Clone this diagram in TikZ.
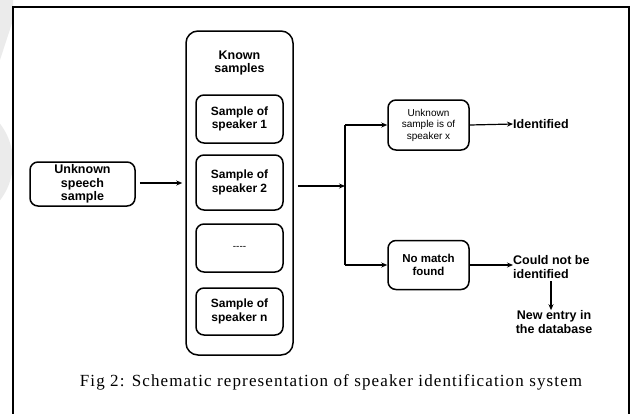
\documentclass[tikz,border=0pt]{standalone}
\usepackage{fontspec}
\setmainfont{Liberation Serif}
\setsansfont{Liberation Sans}
\usetikzlibrary{arrows.meta}
\definecolor{wm}{HTML}{EBEBEB}
\tikzset{
  box/.style={draw, line width=1.5pt, rounded corners=8pt, align=center, inner sep=0pt,
    font=\sffamily\bfseries\fontsize{12}{13.5}\selectfont},
  lbl/.style={inner sep=0pt, font=\sffamily\bfseries\fontsize{12.5}{14}\selectfont},
  conn/.style={line width=1.2pt, -{Stealth[length=6pt,width=5pt]}},
  plain/.style={line width=1.2pt}
}
\begin{document}
\begin{tikzpicture}[x=1pt,y=-1pt]
\useasboundingbox (0,0) rectangle (634,413);
\clip (0,0) rectangle (634,413);
% watermark
\fill[wm] (-50,162) circle (63);
\fill[wm] (0,0) -- (13,0) -- (13,20) -- (0,60) -- cycle;
% frame
\draw[line width=1.8pt] (13,7) rectangle (629,430);
% known samples container
\node[box, rounded corners=12pt, minimum width=107pt, minimum height=324pt] (known) at (239.5,193) {};
\node[lbl, align=center, font=\sffamily\bfseries\fontsize{12.5}{13.5}\selectfont] (knowntitle) at (239.5,63) {Known\\samples};
\node[box, minimum width=87pt, minimum height=48pt] (s1) at (239.5,119) {Sample of\\speaker 1};
\node[box, minimum width=87pt, minimum height=55pt] (s2) at (239.5,182.5) {Sample of\\speaker 2};
\node[box, minimum width=87pt, minimum height=48pt, font=\sffamily\fontsize{10}{12}\selectfont] (sd) at (239.5,248) {-{}-{}-{}-};
\node[box, minimum width=87pt, minimum height=47pt] (sn) at (239.5,311.5) {Sample of\\speaker n};
% unknown speech
\node[box, minimum width=105pt, minimum height=44pt, font=\sffamily\bfseries\fontsize{12.5}{13.5}\selectfont] (unk) at (82.5,184) {Unknown\\speech\\sample};
% result boxes
\node[box, minimum width=81pt, minimum height=50pt, font=\sffamily\fontsize{10}{11.5}\selectfont] (ux) at (428.5,125) {Unknown\\sample is of\\speaker x};
\node[box, minimum width=81pt, minimum height=49pt, font=\sffamily\bfseries\fontsize{11.5}{12.5}\selectfont] (nm) at (428.5,265) {No match\\found};
% labels
\node[lbl, anchor=west] (ident) at (513,124) {Identified};
\node[lbl, anchor=west, align=left] (cnbi) at (513,267) {Could not be\\ identified};
\node[lbl, align=center] (newe) at (554,322) {New entry in\\the database};
% connectors
\coordinate (split) at (345,186);
\coordinate (stop) at (345,125);
\coordinate (sbot) at (345,265);
\draw[conn] (unk.east) ++(4,-1) -- ([xshift=-3pt]known.west |- 0,183);
\draw[conn] ([xshift=4pt]known.east |- split) -- (split);
\draw[plain] (stop) -- (sbot);
\draw[conn] (stop) -- (ux.west);
\draw[conn] (sbot) -- (nm.west);
\draw[conn] (ux.east) -- (ident.west);
\draw[conn] (nm.east) -- (cnbi.west |- nm.east);
\draw[conn] (551,281) -- (newe.north -| 551,0);
% caption
\node[font=\addfontfeature{LetterSpace=6.7}\fontsize{17}{19}\selectfont, inner sep=0pt] (cap) at (331,382) {Fig 2: Schematic representation of speaker identification system};
\end{tikzpicture}
\end{document}
